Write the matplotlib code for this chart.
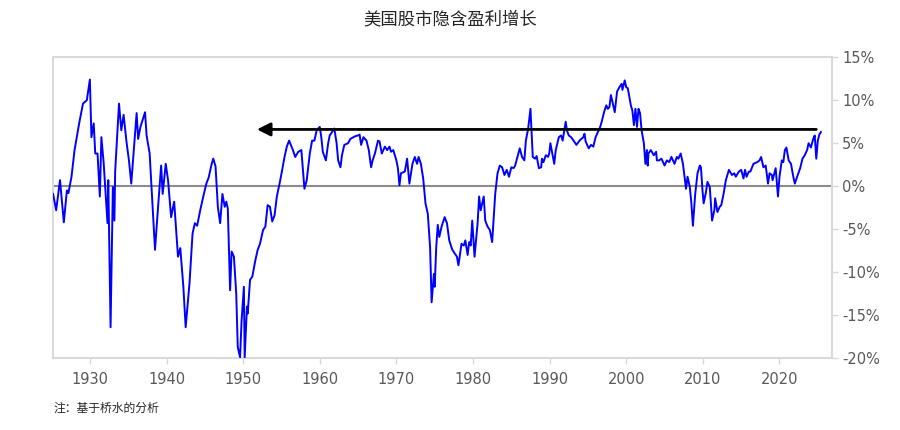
"""US equity market implied earnings growth, with the reference arrow."""

import matplotlib.pyplot as plt

years = [
    1925.2, 1925.6, 1926.1, 1926.6, 1927.0, 1927.2, 1927.6, 1928.0, 1928.6, 1929.1,
    1929.6, 1930.0, 1930.2, 1930.5, 1930.7, 1931.0, 1931.3, 1931.5, 1931.8, 1932.3,
    1932.4, 1932.7, 1933.0, 1933.2, 1933.3, 1933.8, 1934.1, 1934.4, 1934.8, 1935.1,
    1935.4, 1936.1, 1936.3, 1936.6, 1937.2, 1937.4, 1937.8, 1938.5, 1938.9, 1939.3,
    1939.5, 1939.9, 1940.2, 1940.6, 1941.0, 1941.5, 1941.8, 1942.2, 1942.5, 1943.0,
    1943.4, 1943.7, 1944.0, 1944.4, 1944.8, 1945.2, 1945.5, 1945.9, 1946.1, 1946.4,
    1946.7, 1947.0, 1947.3, 1947.6, 1947.8, 1948.0, 1948.3, 1948.5, 1948.8, 1949.1,
    1949.3, 1949.6, 1949.8, 1950.1, 1950.2, 1950.5, 1950.6, 1950.9, 1951.2, 1951.6,
    1951.9, 1952.2, 1952.6, 1952.9, 1953.2, 1953.5, 1953.8, 1954.1, 1954.4, 1954.8,
    1955.1, 1955.4, 1955.7, 1956.0, 1956.5, 1956.8, 1957.2, 1957.6, 1957.8, 1958.0,
    1958.3, 1958.7, 1959.0, 1959.3, 1959.6, 1960.0, 1960.2, 1960.4, 1960.8, 1961.1,
    1961.3, 1961.6, 1961.9, 1962.2, 1962.4, 1962.7, 1962.9, 1963.2, 1963.7, 1964.0,
    1964.6, 1965.0, 1965.2, 1965.4, 1965.7, 1966.1, 1966.4, 1966.7, 1966.9, 1967.2,
    1967.6, 1967.8, 1968.1, 1968.5, 1968.8, 1969.1, 1969.3, 1969.6, 1970.0, 1970.2,
    1970.4, 1970.6, 1971.1, 1971.4, 1971.7, 1972.1, 1972.4, 1972.7, 1972.9, 1973.2,
    1973.5, 1973.8, 1974.1, 1974.4, 1974.6, 1974.9, 1975.0, 1975.2, 1975.4, 1975.6,
    1975.9, 1976.3, 1976.6, 1976.9, 1977.3, 1977.6, 1977.9, 1978.1, 1978.5, 1978.8,
    1979.0, 1979.3, 1979.5, 1979.7, 1979.9, 1980.2, 1980.6, 1980.8, 1981.0, 1981.4,
    1981.6, 1981.9, 1982.2, 1982.5, 1982.7, 1982.9, 1983.2, 1983.5, 1983.8, 1984.1,
    1984.4, 1984.7, 1985.0, 1985.3, 1985.5, 1985.8, 1986.1, 1986.4, 1986.7, 1986.9,
    1987.2, 1987.5, 1987.8, 1988.1, 1988.3, 1988.6, 1988.9, 1989.0, 1989.2, 1989.5,
    1989.8, 1989.95, 1990.1, 1990.6, 1990.8, 1991.2, 1991.5, 1991.7, 1992.1, 1992.25,
    1992.5, 1992.8, 1993.2, 1993.5, 1993.9, 1994.4, 1994.55, 1994.7, 1995.1, 1995.4,
    1995.7, 1996.0, 1996.3, 1996.6, 1996.8, 1997.1, 1997.4, 1997.6, 1997.8, 1998.0,
    1998.2, 1998.5, 1998.8, 1999.1, 1999.4, 1999.5, 1999.8, 2000.0, 2000.2, 2000.4,
    2000.6, 2000.8, 2001.0, 2001.2, 2001.4, 2001.6, 2001.8, 2002.0, 2002.3, 2002.5,
    2002.7, 2002.8, 2002.9, 2003.2, 2003.6, 2003.9, 2004.0, 2004.3, 2004.6, 2005.0,
    2005.3, 2005.6, 2005.9, 2006.3, 2006.6, 2006.8, 2007.1, 2007.4, 2007.6, 2007.8,
    2008.0, 2008.3, 2008.5, 2008.7, 2009.0, 2009.3, 2009.6, 2009.75, 2009.95, 2010.1,
    2010.4, 2010.6, 2010.9, 2011.05, 2011.2, 2011.5, 2011.6, 2011.9, 2012.2, 2012.4,
    2012.7, 2013.0, 2013.4, 2013.8, 2014.1, 2014.3, 2014.7, 2015.0, 2015.3, 2015.5,
    2015.7, 2016.0, 2016.2, 2016.6, 2017.1, 2017.4, 2017.6, 2017.9, 2018.2, 2018.5,
    2018.7, 2019.0, 2019.1, 2019.5, 2019.8, 2020.0, 2020.3, 2020.5, 2020.7, 2020.9,
    2021.2, 2021.5, 2021.8, 2022.0, 2022.3, 2022.7, 2023.0, 2023.3, 2023.6, 2023.8,
    2024.1, 2024.4, 2024.6, 2024.8, 2025.0, 2025.2, 2025.4,
]

growth = [
    -0.9, -2.8, 0.7, -4.2, -0.5, -0.8, 1.1, 4.2, 7.3, 9.6,
    10.0, 12.4, 5.7, 7.3, 3.8, 3.8, -1.2, 5.7, 2.7, -4.3,
    0.7, -16.4, -0.1, -4.0, 1.7, 9.6, 6.5, 8.3, 5.0, 3.0,
    0.3, 8.5, 5.5, 6.9, 8.6, 5.9, 3.8, -7.4, -2.4, 2.4,
    -0.9, 2.6, 0.7, -3.6, -1.8, -8.2, -7.2, -11.7, -16.4, -11.3,
    -5.5, -4.3, -4.6, -2.8, -1.2, 0.3, 1.0, 2.6, 3.2, 2.3,
    -2.4, -4.3, -0.9, -2.4, -1.8, -2.6, -12.1, -7.6, -8.2, -12.5,
    -18.7, -19.9, -15.6, -11.7, -19.9, -14.0, -14.8, -10.9, -10.5, -8.6,
    -7.4, -6.7, -5.1, -4.7, -2.2, -2.4, -4.1, -3.4, -1.2, 0.5,
    1.9, 3.4, 4.6, 5.3, 4.2, 3.4, 4.0, 4.2, 1.9, -0.3,
    0.7, 3.8, 5.3, 5.3, 6.5, 6.9, 5.7, 4.0, 3.0, 5.0,
    5.9, 6.3, 6.7, 5.0, 3.0, 2.2, 3.6, 4.8, 5.0, 5.5,
    5.8, 5.9, 6.0, 4.8, 5.7, 5.3, 4.2, 2.2, 3.0, 3.8,
    5.3, 5.2, 3.8, 4.6, 4.2, 4.6, 4.0, 4.2, 3.0, 2.1,
    0.1, 1.5, 1.7, 3.2, 0.3, 2.6, 3.4, 2.6, 3.4, 2.6,
    0.9, -2.0, -3.2, -7.1, -13.5, -10.2, -11.7, -7.1, -4.5, -5.9,
    -4.7, -3.6, -4.3, -6.3, -7.4, -7.8, -8.2, -9.2, -6.7, -6.9,
    -6.3, -8.0, -6.5, -6.9, -4.0, -8.2, -4.3, -1.2, -2.8, -1.2,
    -4.0, -4.7, -5.1, -6.5, -3.6, -0.9, 1.5, 2.4, 2.2, 1.3,
    1.9, 1.1, 2.2, 2.1, 2.4, 3.4, 4.4, 3.4, 3.0, 5.3,
    6.7, 9.0, 3.4, 3.2, 3.5, 2.1, 2.2, 3.2, 2.8, 3.6,
    3.4, 3.8, 5.0, 2.6, 4.2, 5.7, 5.9, 5.3, 7.5, 6.5,
    5.9, 5.7, 5.2, 4.8, 5.3, 5.7, 6.1, 5.2, 4.4, 4.8,
    4.6, 5.7, 6.3, 6.9, 7.5, 8.6, 9.4, 9.0, 9.2, 10.6,
    9.8, 8.6, 11.0, 11.5, 11.9, 11.2, 12.3, 11.5, 11.4, 10.4,
    9.4, 8.8, 7.1, 9.0, 6.9, 9.0, 8.5, 6.5, 5.0, 2.6,
    4.2, 2.4, 3.8, 4.2, 3.6, 4.0, 3.0, 3.0, 3.2, 2.4,
    3.0, 2.8, 3.4, 2.6, 3.4, 3.2, 3.8, 2.6, 1.1, -0.3,
    1.1, -0.1, -2.0, -4.6, -0.9, 1.5, 2.4, 2.2, -0.5, -2.0,
    -0.7, 0.5, -0.1, -2.0, -4.0, -2.8, -1.4, -3.0, -2.4, -2.2,
    -0.9, 0.7, 1.9, 1.3, 1.5, 1.1, 1.7, 1.9, 0.9, 1.9,
    1.1, 1.7, 1.7, 2.6, 2.8, 3.0, 3.4, 2.2, 2.4, 0.3,
    1.5, 1.3, 0.7, 2.1, -1.2, 1.1, 3.0, 2.8, 4.2, 4.5,
    3.0, 2.6, 1.1, 0.3, 1.1, 2.1, 3.2, 3.6, 4.2, 5.0,
    4.5, 5.5, 5.9, 3.2, 5.3, 6.0, 6.3,
]

# current level carried back to the last time it was this high
arrow_from = 2024.8
arrow_to = 1951.8
arrow_level = 6.6

y_ticks = [-20, -15, -10, -5, 0, 5, 10, 15]
x_ticks = [1930, 1940, 1950, 1960, 1970, 1980, 1990, 2000, 2010, 2020]

plt.rcParams["font.family"] = ["DejaVu Sans"]
CJK = ["Noto Sans CJK SC", "DejaVu Sans"]
GRID = "#d9d9d9"
TXT = "#595959"

fig = plt.figure(figsize=(9, 4.3), dpi=100)
ax = fig.add_axes([0.059, 0.167, 0.865, 0.70])

ax.axhline(0, color="#8c8c8c", lw=1.5, zorder=1)
ax.plot(years, growth, color="#0000ff", lw=1.4, zorder=3)
ax.annotate("", xy=(arrow_to, arrow_level), xytext=(arrow_from, arrow_level),
            arrowprops=dict(arrowstyle="-|>", color="black", lw=2,
                            mutation_scale=20, shrinkA=0, shrinkB=0),
            zorder=4)

ax.set_xlim(1925.2, 2026.8)
ax.set_ylim(-20, 15)
ax.set_xticks(x_ticks)
ax.set_yticks(y_ticks)
ax.set_yticklabels([f"{v}%" for v in y_ticks])
ax.yaxis.tick_right()
ax.tick_params(axis="both", colors=GRID, labelcolor=TXT, labelsize=10.5,
               length=4, width=1)
ax.tick_params(axis="x", pad=6)
for side in ax.spines.values():
    side.set_color(GRID)
    side.set_linewidth(1.5)

fig.text(0.5, 0.955, "美国股市隐含盈利增长", ha="center", va="center",
         fontsize=12.5, family=CJK, color="#262626")
fig.text(0.059, 0.05, "注：基于桥水的分析", ha="left", va="center",
         fontsize=8.5, family=CJK, color="#262626")

fig.savefig("out.png", dpi=100)
plt.close(fig)
